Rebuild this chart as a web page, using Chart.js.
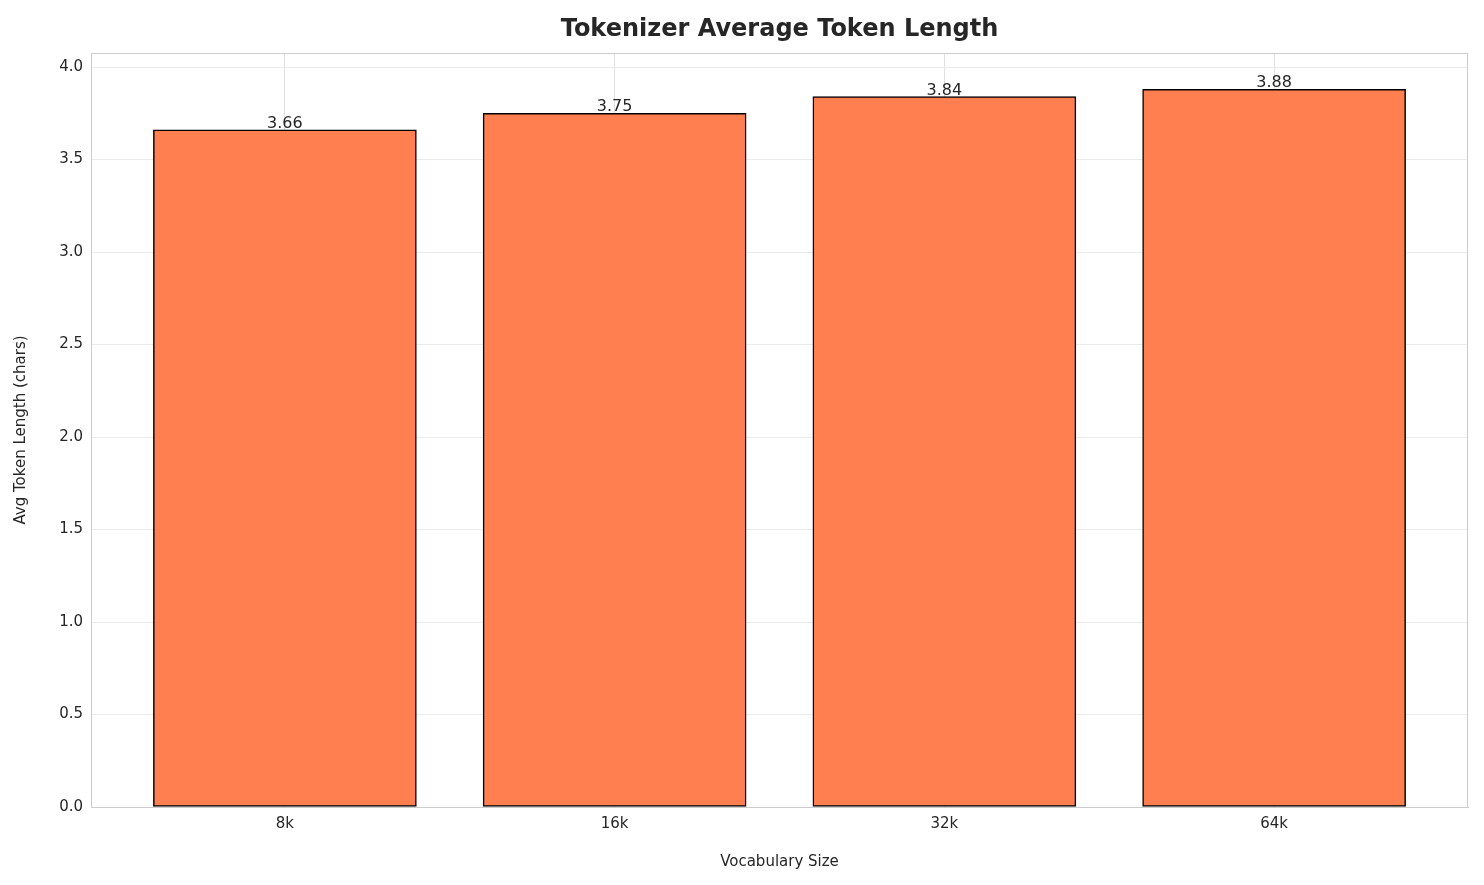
<!DOCTYPE html>
<html>
<head>
<meta charset="utf-8">
<script src="https://cdn.jsdelivr.net/npm/chart.js@4/dist/chart.umd.min.js"></script>
<style>
  html, body { margin:0; padding:0; background:#fff; }
  #wrap { width:1484px; height:885px; }
</style>
</head>
<body>
<div id="wrap"><canvas id="chart" width="1484" height="885"></canvas></div>
<script>
var categorias = ['8k', '16k', '32k', '64k'];
var valores = [3.66, 3.75, 3.84, 3.88];
var yTicks = [0, 0.5, 1, 1.5, 2, 2.5, 3, 3.5, 4];

var FONTE = 'DejaVu Sans, sans-serif';

// titulo, caixa do grafico e rotulos das barras
var extras = {
  id: 'extras',
  afterDatasetsDraw: function(chart) {
    var ctx = chart.ctx, a = chart.chartArea;
    ctx.save();
    ctx.strokeStyle = '#cccccc';
    ctx.lineWidth = 1;
    ctx.strokeRect(a.left + 0.5, a.top + 0.5, a.right - a.left - 1, a.bottom - a.top);
    ctx.fillStyle = '#262626';
    ctx.font = '16px ' + FONTE;
    ctx.textAlign = 'center';
    ctx.textBaseline = 'bottom';
    var meta = chart.getDatasetMeta(0);
    meta.data.forEach(function(bar, i) {
      ctx.fillText(valores[i].toFixed(2), bar.x, bar.y + 2);
    });
    ctx.font = 'bold 24px ' + FONTE;
    ctx.textBaseline = 'middle';
    ctx.fillText('Tokenizer Average Token Length', (a.left + a.right) / 2, 30);
    ctx.restore();
  }
};

new Chart(document.getElementById('chart'), {
  type: 'bar',
  data: {
    datasets: [{
      data: valores.map(function(v, i) { return { x: i, y: v }; }),
      backgroundColor: '#ff7f50',
      borderColor: '#000000',
      borderWidth: 1.5,
      borderSkipped: false,
      barThickness: 263
    }]
  },
  options: {
    responsive: false,
    animation: false,
    layout: { padding: { top: 53, right: 16, left: 0, bottom: 0 } },
    plugins: { legend: { display: false }, tooltip: { enabled: false } },
    scales: {
      x: {
        type: 'linear',
        offset: false,
        min: -0.588, max: 3.588,
        afterBuildTicks: function(s) { s.ticks = [0,1,2,3].map(function(v){ return { value: v }; }); },
        afterFit: function(s) { s.height = 78; },
        ticks: {
          callback: function(v) { return categorias[v]; },
          color: '#262626', font: { family: FONTE, size: 15 }, padding: 8
        },
        grid: { color: '#e0e0e0', drawTicks: false, offset: false },
        border: { color: '#cccccc' },
        title: { display: true, text: 'Vocabulary Size', color: '#262626', font: { family: FONTE, size: 15 }, padding: { top: 4, bottom: 14 } }
      },
      y: {
        min: 0, max: 4.076,
        afterBuildTicks: function(s) { s.ticks = yTicks.map(function(v){ return { value: v }; }); },
        afterFit: function(s) { s.width = 91; },
        ticks: {
          callback: function(v) { return v.toFixed(1); },
          color: '#262626', font: { family: FONTE, size: 15 }, padding: 8
        },
        grid: { color: '#ebebeb', drawTicks: false },
        border: { color: '#cccccc' },
        title: { display: true, text: 'Avg Token Length (chars)', color: '#262626', font: { family: FONTE, size: 15 }, padding: { top: 12, bottom: 4 } }
      }
    }
  },
  plugins: [extras]
});
</script>
</body>
</html>
